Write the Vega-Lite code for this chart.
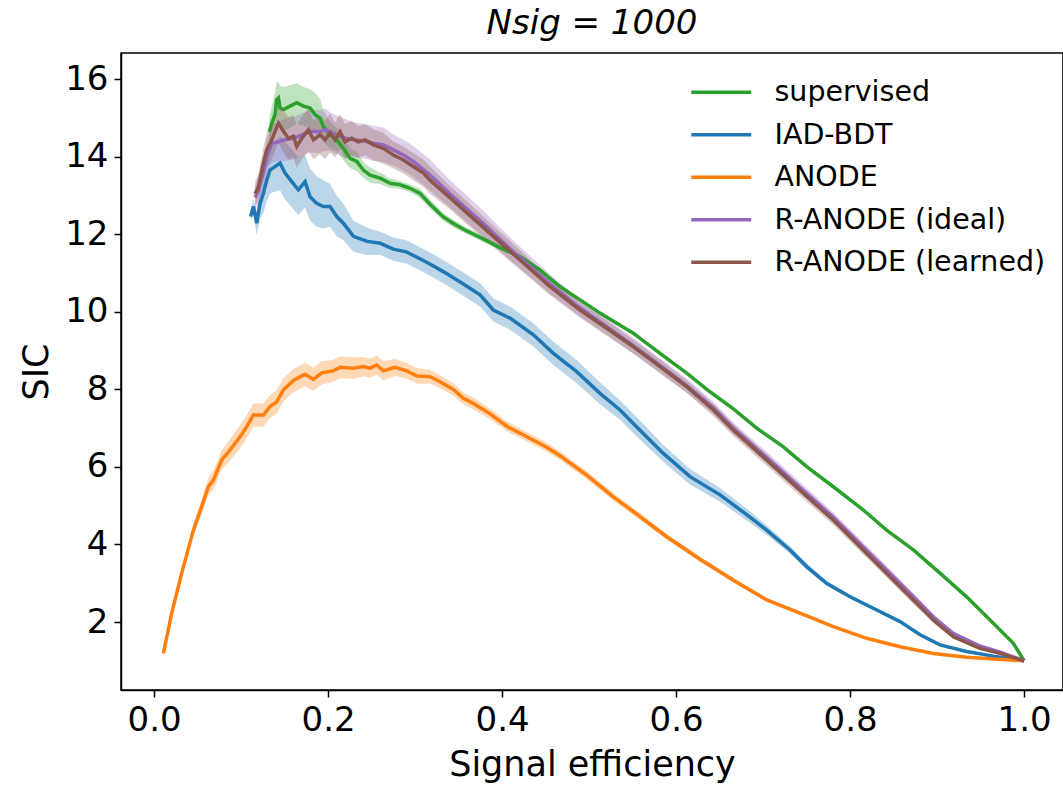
{
  "$schema": "https://vega.github.io/schema/vega-lite/v6.json",
  "autosize": {"type": "none"},
  "width": 942,
  "height": 637,
  "padding": {"left": 121, "top": 53, "right": 0, "bottom": 96},
  "background": "white",
  "title": {"text": "Nsig = 1000", "font": "DejaVu Sans", "fontSize": 34, "fontStyle": "italic", "fontWeight": "normal", "color": "black", "offset": 12},
  "config": {
    "view": {"stroke": "black", "strokeWidth": 1.5},
    "axis": {"grid": false, "domainColor": "black", "domainWidth": 1.5, "tickColor": "black", "tickWidth": 1.5, "tickSize": 7, "labelFont": "DejaVu Sans", "labelFontSize": 34, "labelColor": "black", "titleFont": "DejaVu Sans", "titleFontSize": 35, "titleFontWeight": "normal", "titleColor": "black", "labelPadding": 6},
    "legend": {"title": null, "labelFont": "DejaVu Sans", "labelFontSize": 28.5, "labelColor": "black", "labelLimit": 500, "symbolType": "M-3,0H3", "symbolSize": 400, "symbolStrokeWidth": 3.5, "labelOffset": 39, "rowPadding": 13.5, "padding": 0}
  },
  "resolve": {"legend": {"color": "independent"}},
  "data": {"values": [
    {"s":"supervised","x":0.1326,"y":14.65,"lo":14.30,"hi":15.00},
    {"s":"supervised","x":0.1353,"y":14.87,"lo":14.42,"hi":15.32},
    {"s":"supervised","x":0.139,"y":15.09,"lo":14.54,"hi":15.64},
    {"s":"supervised","x":0.141,"y":15.48,"lo":14.9,"hi":15.95},
    {"s":"supervised","x":0.143,"y":15.52,"lo":14.95,"hi":15.92},
    {"s":"supervised","x":0.1448,"y":15.26,"lo":14.7,"hi":15.85},
    {"s":"supervised","x":0.1487,"y":15.22,"lo":14.65,"hi":15.8},
    {"s":"supervised","x":0.1563,"y":15.31,"lo":14.75,"hi":15.85},
    {"s":"supervised","x":0.164,"y":15.40,"lo":14.85,"hi":15.9},
    {"s":"supervised","x":0.1716,"y":15.31,"lo":14.8,"hi":15.8},
    {"s":"supervised","x":0.1793,"y":15.26,"lo":14.75,"hi":15.75},
    {"s":"supervised","x":0.1851,"y":15.09,"lo":14.6,"hi":15.65},
    {"s":"supervised","x":0.1908,"y":15.0,"lo":14.55,"hi":15.5},
    {"s":"supervised","x":0.1946,"y":14.78,"lo":14.38,"hi":15.2},
    {"s":"supervised","x":0.2023,"y":14.57,"lo":14.22,"hi":14.92},
    {"s":"supervised","x":0.21,"y":14.44,"lo":14.14,"hi":14.74},
    {"s":"supervised","x":0.2176,"y":14.22,"lo":13.92,"hi":14.52},
    {"s":"supervised","x":0.2253,"y":13.96,"lo":13.71,"hi":14.21},
    {"s":"supervised","x":0.233,"y":13.88,"lo":13.63,"hi":14.13},
    {"s":"supervised","x":0.2406,"y":13.66,"lo":13.46,"hi":13.86},
    {"s":"supervised","x":0.2483,"y":13.53,"lo":13.33,"hi":13.73},
    {"s":"supervised","x":0.2598,"y":13.45,"lo":13.30,"hi":13.60},
    {"s":"supervised","x":0.2713,"y":13.32,"lo":13.20,"hi":13.44},
    {"s":"supervised","x":0.2828,"y":13.28,"lo":13.18,"hi":13.38},
    {"s":"supervised","x":0.2943,"y":13.19,"lo":13.09,"hi":13.29},
    {"s":"supervised","x":0.3057,"y":13.06,"lo":12.94,"hi":13.18},
    {"s":"supervised","x":0.3172,"y":12.78,"lo":12.66,"hi":12.90},
    {"s":"supervised","x":0.3325,"y":12.45,"lo":12.35,"hi":12.55},
    {"s":"supervised","x":0.344,"y":12.28,"lo":12.18,"hi":12.38},
    {"s":"supervised","x":0.3594,"y":12.09,"lo":12.01,"hi":12.17},
    {"s":"supervised","x":0.3785,"y":11.88,"lo":11.80,"hi":11.96},
    {"s":"supervised","x":0.3977,"y":11.66,"lo":11.60,"hi":11.72},
    {"s":"supervised","x":0.4207,"y":11.43,"lo":11.38,"hi":11.48},
    {"s":"supervised","x":0.4437,"y":11.08,"lo":11.03,"hi":11.13},
    {"s":"supervised","x":0.4667,"y":10.65,"lo":10.60,"hi":10.70},
    {"s":"supervised","x":0.4897,"y":10.31,"lo":10.27,"hi":10.35},
    {"s":"supervised","x":0.5126,"y":9.97,"lo":9.93,"hi":10.01},
    {"s":"supervised","x":0.5318,"y":9.71,"lo":9.67,"hi":9.75},
    {"s":"supervised","x":0.551,"y":9.45,"lo":9.42,"hi":9.48},
    {"s":"supervised","x":0.5663,"y":9.19,"lo":9.16,"hi":9.22},
    {"s":"supervised","x":0.5893,"y":8.80,"lo":8.77,"hi":8.83},
    {"s":"supervised","x":0.6123,"y":8.42,"lo":8.39,"hi":8.45},
    {"s":"supervised","x":0.639,"y":7.94,"lo":7.91,"hi":7.97},
    {"s":"supervised","x":0.6659,"y":7.50,"lo":7.47,"hi":7.53},
    {"s":"supervised","x":0.6927,"y":7.0,"lo":6.97,"hi":7.03},
    {"s":"supervised","x":0.7234,"y":6.52,"lo":6.50,"hi":6.54},
    {"s":"supervised","x":0.7502,"y":6.01,"lo":5.99,"hi":6.03},
    {"s":"supervised","x":0.7808,"y":5.49,"lo":5.47,"hi":5.51},
    {"s":"supervised","x":0.8153,"y":4.89,"lo":4.87,"hi":4.91},
    {"s":"supervised","x":0.842,"y":4.37,"lo":4.35,"hi":4.39},
    {"s":"supervised","x":0.8728,"y":3.86,"lo":3.84,"hi":3.88},
    {"s":"supervised","x":0.9034,"y":3.26,"lo":3.24,"hi":3.28},
    {"s":"supervised","x":0.934,"y":2.65,"lo":2.63,"hi":2.67},
    {"s":"supervised","x":0.9647,"y":1.97,"lo":1.96,"hi":1.98},
    {"s":"supervised","x":0.9877,"y":1.45,"lo":1.44,"hi":1.46},
    {"s":"supervised","x":1.0,"y":1.0,"lo":1.0,"hi":1.0},

    {"s":"IAD-BDT","x":0.111,"y":12.46,"lo":12.36,"hi":12.56},
    {"s":"IAD-BDT","x":0.1142,"y":12.72,"lo":12.52,"hi":12.92},
    {"s":"IAD-BDT","x":0.118,"y":12.29,"lo":11.99,"hi":12.59},
    {"s":"IAD-BDT","x":0.1218,"y":12.80,"lo":12.40,"hi":13.20},
    {"s":"IAD-BDT","x":0.1257,"y":13.06,"lo":12.56,"hi":13.56},
    {"s":"IAD-BDT","x":0.1295,"y":13.40,"lo":12.85,"hi":13.95},
    {"s":"IAD-BDT","x":0.1333,"y":13.66,"lo":13.06,"hi":14.26},
    {"s":"IAD-BDT","x":0.139,"y":13.75,"lo":13.10,"hi":14.40},
    {"s":"IAD-BDT","x":0.1448,"y":13.84,"lo":13.14,"hi":14.54},
    {"s":"IAD-BDT","x":0.1506,"y":13.58,"lo":12.90,"hi":14.40},
    {"s":"IAD-BDT","x":0.1582,"y":13.36,"lo":12.70,"hi":14.20},
    {"s":"IAD-BDT","x":0.1659,"y":13.15,"lo":12.50,"hi":14.00},
    {"s":"IAD-BDT","x":0.1736,"y":13.36,"lo":12.70,"hi":14.05},
    {"s":"IAD-BDT","x":0.1793,"y":12.97,"lo":12.35,"hi":13.70},
    {"s":"IAD-BDT","x":0.187,"y":12.80,"lo":12.20,"hi":13.50},
    {"s":"IAD-BDT","x":0.1946,"y":12.72,"lo":12.15,"hi":13.40},
    {"s":"IAD-BDT","x":0.2023,"y":12.72,"lo":12.20,"hi":13.30},
    {"s":"IAD-BDT","x":0.21,"y":12.46,"lo":11.95,"hi":13.00},
    {"s":"IAD-BDT","x":0.2176,"y":12.29,"lo":11.85,"hi":12.80},
    {"s":"IAD-BDT","x":0.2291,"y":11.95,"lo":11.55,"hi":12.35},
    {"s":"IAD-BDT","x":0.245,"y":11.82,"lo":11.47,"hi":12.17},
    {"s":"IAD-BDT","x":0.26,"y":11.77,"lo":11.47,"hi":12.07},
    {"s":"IAD-BDT","x":0.275,"y":11.62,"lo":11.32,"hi":11.92},
    {"s":"IAD-BDT","x":0.29,"y":11.55,"lo":11.25,"hi":11.85},
    {"s":"IAD-BDT","x":0.3134,"y":11.28,"lo":10.98,"hi":11.58},
    {"s":"IAD-BDT","x":0.3325,"y":11.04,"lo":10.74,"hi":11.34},
    {"s":"IAD-BDT","x":0.3555,"y":10.72,"lo":10.42,"hi":11.02},
    {"s":"IAD-BDT","x":0.3747,"y":10.44,"lo":10.14,"hi":10.74},
    {"s":"IAD-BDT","x":0.39,"y":10.05,"lo":9.75,"hi":10.35},
    {"s":"IAD-BDT","x":0.4092,"y":9.84,"lo":9.54,"hi":10.14},
    {"s":"IAD-BDT","x":0.436,"y":9.41,"lo":9.11,"hi":9.71},
    {"s":"IAD-BDT","x":0.459,"y":8.93,"lo":8.63,"hi":9.23},
    {"s":"IAD-BDT","x":0.4858,"y":8.46,"lo":8.16,"hi":8.76},
    {"s":"IAD-BDT","x":0.5126,"y":7.90,"lo":7.62,"hi":8.18},
    {"s":"IAD-BDT","x":0.5356,"y":7.47,"lo":7.22,"hi":7.72},
    {"s":"IAD-BDT","x":0.5586,"y":6.95,"lo":6.70,"hi":7.20},
    {"s":"IAD-BDT","x":0.5854,"y":6.35,"lo":6.13,"hi":6.57},
    {"s":"IAD-BDT","x":0.6161,"y":5.75,"lo":5.55,"hi":5.95},
    {"s":"IAD-BDT","x":0.6506,"y":5.28,"lo":5.10,"hi":5.46},
    {"s":"IAD-BDT","x":0.6812,"y":4.77,"lo":4.62,"hi":4.92},
    {"s":"IAD-BDT","x":0.7042,"y":4.37,"lo":4.25,"hi":4.49},
    {"s":"IAD-BDT","x":0.731,"y":3.86,"lo":3.76,"hi":3.96},
    {"s":"IAD-BDT","x":0.7502,"y":3.43,"lo":3.35,"hi":3.51},
    {"s":"IAD-BDT","x":0.773,"y":3.0,"lo":2.94,"hi":3.06},
    {"s":"IAD-BDT","x":0.8,"y":2.65,"lo":2.60,"hi":2.70},
    {"s":"IAD-BDT","x":0.8307,"y":2.31,"lo":2.27,"hi":2.35},
    {"s":"IAD-BDT","x":0.8575,"y":2.01,"lo":1.98,"hi":2.04},
    {"s":"IAD-BDT","x":0.8805,"y":1.67,"lo":1.64,"hi":1.70},
    {"s":"IAD-BDT","x":0.9034,"y":1.41,"lo":1.39,"hi":1.43},
    {"s":"IAD-BDT","x":0.934,"y":1.24,"lo":1.22,"hi":1.26},
    {"s":"IAD-BDT","x":0.9647,"y":1.12,"lo":1.11,"hi":1.13},
    {"s":"IAD-BDT","x":1.0,"y":1.0,"lo":1.0,"hi":1.0},

    {"s":"ANODE","x":0.0107,"y":1.19,"lo":1.17,"hi":1.21},
    {"s":"ANODE","x":0.0203,"y":2.23,"lo":2.18,"hi":2.28},
    {"s":"ANODE","x":0.0318,"y":3.26,"lo":3.16,"hi":3.36},
    {"s":"ANODE","x":0.0452,"y":4.37,"lo":4.22,"hi":4.52},
    {"s":"ANODE","x":0.0548,"y":4.98,"lo":4.78,"hi":5.18},
    {"s":"ANODE","x":0.0624,"y":5.49,"lo":5.27,"hi":5.71},
    {"s":"ANODE","x":0.0682,"y":5.66,"lo":5.41,"hi":5.91},
    {"s":"ANODE","x":0.0778,"y":6.18,"lo":5.93,"hi":6.43},
    {"s":"ANODE","x":0.0874,"y":6.44,"lo":6.16,"hi":6.72},
    {"s":"ANODE","x":0.0989,"y":6.78,"lo":6.48,"hi":7.08},
    {"s":"ANODE","x":0.1065,"y":7.04,"lo":6.74,"hi":7.34},
    {"s":"ANODE","x":0.1142,"y":7.34,"lo":7.04,"hi":7.64},
    {"s":"ANODE","x":0.1257,"y":7.34,"lo":7.04,"hi":7.64},
    {"s":"ANODE","x":0.1333,"y":7.56,"lo":7.26,"hi":7.86},
    {"s":"ANODE","x":0.141,"y":7.68,"lo":7.38,"hi":7.98},
    {"s":"ANODE","x":0.1487,"y":7.99,"lo":7.69,"hi":8.29},
    {"s":"ANODE","x":0.1602,"y":8.23,"lo":7.93,"hi":8.53},
    {"s":"ANODE","x":0.1736,"y":8.39,"lo":8.09,"hi":8.69},
    {"s":"ANODE","x":0.1832,"y":8.26,"lo":7.96,"hi":8.56},
    {"s":"ANODE","x":0.1927,"y":8.43,"lo":8.13,"hi":8.73},
    {"s":"ANODE","x":0.2061,"y":8.48,"lo":8.20,"hi":8.76},
    {"s":"ANODE","x":0.2138,"y":8.57,"lo":8.29,"hi":8.85},
    {"s":"ANODE","x":0.2291,"y":8.55,"lo":8.27,"hi":8.83},
    {"s":"ANODE","x":0.2406,"y":8.59,"lo":8.34,"hi":8.84},
    {"s":"ANODE","x":0.2483,"y":8.55,"lo":8.30,"hi":8.80},
    {"s":"ANODE","x":0.256,"y":8.63,"lo":8.38,"hi":8.88},
    {"s":"ANODE","x":0.2636,"y":8.48,"lo":8.23,"hi":8.73},
    {"s":"ANODE","x":0.277,"y":8.57,"lo":8.35,"hi":8.79},
    {"s":"ANODE","x":0.2904,"y":8.48,"lo":8.28,"hi":8.68},
    {"s":"ANODE","x":0.3019,"y":8.35,"lo":8.15,"hi":8.55},
    {"s":"ANODE","x":0.3172,"y":8.33,"lo":8.15,"hi":8.51},
    {"s":"ANODE","x":0.3287,"y":8.2,"lo":8.03,"hi":8.37},
    {"s":"ANODE","x":0.344,"y":8.0,"lo":7.84,"hi":8.16},
    {"s":"ANODE","x":0.3555,"y":7.77,"lo":7.62,"hi":7.92},
    {"s":"ANODE","x":0.367,"y":7.64,"lo":7.49,"hi":7.79},
    {"s":"ANODE","x":0.3862,"y":7.37,"lo":7.23,"hi":7.51},
    {"s":"ANODE","x":0.4054,"y":7.05,"lo":6.92,"hi":7.18},
    {"s":"ANODE","x":0.4284,"y":6.78,"lo":6.66,"hi":6.90},
    {"s":"ANODE","x":0.4514,"y":6.51,"lo":6.39,"hi":6.63},
    {"s":"ANODE","x":0.4667,"y":6.29,"lo":6.18,"hi":6.40},
    {"s":"ANODE","x":0.4973,"y":5.79,"lo":5.69,"hi":5.89},
    {"s":"ANODE","x":0.528,"y":5.23,"lo":5.13,"hi":5.33},
    {"s":"ANODE","x":0.5586,"y":4.72,"lo":4.63,"hi":4.81},
    {"s":"ANODE","x":0.5893,"y":4.20,"lo":4.12,"hi":4.28},
    {"s":"ANODE","x":0.6276,"y":3.62,"lo":3.55,"hi":3.69},
    {"s":"ANODE","x":0.6659,"y":3.08,"lo":3.02,"hi":3.14},
    {"s":"ANODE","x":0.7042,"y":2.57,"lo":2.52,"hi":2.62},
    {"s":"ANODE","x":0.7425,"y":2.23,"lo":2.19,"hi":2.27},
    {"s":"ANODE","x":0.7808,"y":1.88,"lo":1.85,"hi":1.91},
    {"s":"ANODE","x":0.8192,"y":1.58,"lo":1.55,"hi":1.61},
    {"s":"ANODE","x":0.8575,"y":1.36,"lo":1.34,"hi":1.38},
    {"s":"ANODE","x":0.8958,"y":1.19,"lo":1.17,"hi":1.21},
    {"s":"ANODE","x":0.934,"y":1.09,"lo":1.08,"hi":1.10},
    {"s":"ANODE","x":1.0,"y":1.0,"lo":1.0,"hi":1.0},

    {"s":"R-ANODE (ideal)","x":0.1161,"y":12.95,"lo":12.65,"hi":13.25},
    {"s":"R-ANODE (ideal)","x":0.12,"y":13.15,"lo":12.80,"hi":13.50},
    {"s":"R-ANODE (ideal)","x":0.1257,"y":13.6,"lo":13.20,"hi":14.00},
    {"s":"R-ANODE (ideal)","x":0.1295,"y":14.0,"lo":13.55,"hi":14.45},
    {"s":"R-ANODE (ideal)","x":0.1353,"y":14.35,"lo":13.85,"hi":14.85},
    {"s":"R-ANODE (ideal)","x":0.143,"y":14.39,"lo":13.89,"hi":14.89},
    {"s":"R-ANODE (ideal)","x":0.15,"y":14.44,"lo":13.89,"hi":14.99},
    {"s":"R-ANODE (ideal)","x":0.16,"y":14.48,"lo":13.93,"hi":15.03},
    {"s":"R-ANODE (ideal)","x":0.17,"y":14.57,"lo":14.02,"hi":15.12},
    {"s":"R-ANODE (ideal)","x":0.18,"y":14.66,"lo":14.11,"hi":15.21},
    {"s":"R-ANODE (ideal)","x":0.19,"y":14.65,"lo":14.10,"hi":15.20},
    {"s":"R-ANODE (ideal)","x":0.1966,"y":14.70,"lo":14.15,"hi":15.25},
    {"s":"R-ANODE (ideal)","x":0.2023,"y":14.65,"lo":14.15,"hi":15.15},
    {"s":"R-ANODE (ideal)","x":0.21,"y":14.57,"lo":14.07,"hi":15.07},
    {"s":"R-ANODE (ideal)","x":0.22,"y":14.48,"lo":13.98,"hi":14.98},
    {"s":"R-ANODE (ideal)","x":0.23,"y":14.44,"lo":13.99,"hi":14.89},
    {"s":"R-ANODE (ideal)","x":0.2425,"y":14.40,"lo":13.95,"hi":14.85},
    {"s":"R-ANODE (ideal)","x":0.2521,"y":14.35,"lo":13.90,"hi":14.80},
    {"s":"R-ANODE (ideal)","x":0.2636,"y":14.31,"lo":13.86,"hi":14.76},
    {"s":"R-ANODE (ideal)","x":0.2751,"y":14.18,"lo":13.78,"hi":14.58},
    {"s":"R-ANODE (ideal)","x":0.2866,"y":14.05,"lo":13.65,"hi":14.45},
    {"s":"R-ANODE (ideal)","x":0.298,"y":13.88,"lo":13.48,"hi":14.28},
    {"s":"R-ANODE (ideal)","x":0.3172,"y":13.53,"lo":13.13,"hi":13.93},
    {"s":"R-ANODE (ideal)","x":0.34,"y":13.05,"lo":12.70,"hi":13.40},
    {"s":"R-ANODE (ideal)","x":0.36,"y":12.65,"lo":12.30,"hi":13.00},
    {"s":"R-ANODE (ideal)","x":0.38,"y":12.25,"lo":11.92,"hi":12.58},
    {"s":"R-ANODE (ideal)","x":0.40,"y":11.82,"lo":11.52,"hi":12.12},
    {"s":"R-ANODE (ideal)","x":0.4207,"y":11.40,"lo":11.12,"hi":11.68},
    {"s":"R-ANODE (ideal)","x":0.4552,"y":10.72,"lo":10.47,"hi":10.97},
    {"s":"R-ANODE (ideal)","x":0.4897,"y":10.10,"lo":9.88,"hi":10.32},
    {"s":"R-ANODE (ideal)","x":0.5203,"y":9.62,"lo":9.42,"hi":9.82},
    {"s":"R-ANODE (ideal)","x":0.551,"y":9.13,"lo":8.93,"hi":9.33},
    {"s":"R-ANODE (ideal)","x":0.5816,"y":8.62,"lo":8.44,"hi":8.80},
    {"s":"R-ANODE (ideal)","x":0.6123,"y":8.10,"lo":7.92,"hi":8.28},
    {"s":"R-ANODE (ideal)","x":0.643,"y":7.52,"lo":7.36,"hi":7.68},
    {"s":"R-ANODE (ideal)","x":0.6659,"y":7.0,"lo":6.85,"hi":7.15},
    {"s":"R-ANODE (ideal)","x":0.7042,"y":6.24,"lo":6.09,"hi":6.39},
    {"s":"R-ANODE (ideal)","x":0.7425,"y":5.47,"lo":5.33,"hi":5.61},
    {"s":"R-ANODE (ideal)","x":0.7808,"y":4.70,"lo":4.57,"hi":4.83},
    {"s":"R-ANODE (ideal)","x":0.8115,"y":4.02,"lo":3.90,"hi":4.14},
    {"s":"R-ANODE (ideal)","x":0.842,"y":3.34,"lo":3.23,"hi":3.45},
    {"s":"R-ANODE (ideal)","x":0.8728,"y":2.65,"lo":2.55,"hi":2.75},
    {"s":"R-ANODE (ideal)","x":0.8958,"y":2.13,"lo":2.05,"hi":2.21},
    {"s":"R-ANODE (ideal)","x":0.9188,"y":1.70,"lo":1.64,"hi":1.76},
    {"s":"R-ANODE (ideal)","x":0.9494,"y":1.38,"lo":1.34,"hi":1.42},
    {"s":"R-ANODE (ideal)","x":0.9724,"y":1.22,"lo":1.19,"hi":1.25},
    {"s":"R-ANODE (ideal)","x":1.0,"y":1.0,"lo":1.0,"hi":1.0},

    {"s":"R-ANODE (learned)","x":0.1161,"y":13.05,"lo":12.75,"hi":13.35},
    {"s":"R-ANODE (learned)","x":0.12,"y":13.23,"lo":12.88,"hi":13.58},
    {"s":"R-ANODE (learned)","x":0.1257,"y":13.84,"lo":13.44,"hi":14.24},
    {"s":"R-ANODE (learned)","x":0.1295,"y":14.18,"lo":13.73,"hi":14.63},
    {"s":"R-ANODE (learned)","x":0.1353,"y":14.44,"lo":13.94,"hi":14.94},
    {"s":"R-ANODE (learned)","x":0.143,"y":14.87,"lo":14.37,"hi":15.37},
    {"s":"R-ANODE (learned)","x":0.1487,"y":14.66,"lo":14.11,"hi":15.21},
    {"s":"R-ANODE (learned)","x":0.1544,"y":14.48,"lo":13.93,"hi":15.03},
    {"s":"R-ANODE (learned)","x":0.1602,"y":14.53,"lo":13.98,"hi":15.08},
    {"s":"R-ANODE (learned)","x":0.164,"y":14.27,"lo":13.72,"hi":14.82},
    {"s":"R-ANODE (learned)","x":0.1698,"y":14.48,"lo":13.93,"hi":15.03},
    {"s":"R-ANODE (learned)","x":0.1774,"y":14.70,"lo":14.15,"hi":15.25},
    {"s":"R-ANODE (learned)","x":0.1832,"y":14.44,"lo":13.94,"hi":14.94},
    {"s":"R-ANODE (learned)","x":0.1908,"y":14.57,"lo":14.07,"hi":15.07},
    {"s":"R-ANODE (learned)","x":0.1966,"y":14.44,"lo":13.94,"hi":14.94},
    {"s":"R-ANODE (learned)","x":0.2023,"y":14.61,"lo":14.11,"hi":15.11},
    {"s":"R-ANODE (learned)","x":0.2081,"y":14.44,"lo":13.99,"hi":14.89},
    {"s":"R-ANODE (learned)","x":0.2138,"y":14.65,"lo":14.20,"hi":15.10},
    {"s":"R-ANODE (learned)","x":0.2195,"y":14.39,"lo":13.94,"hi":14.84},
    {"s":"R-ANODE (learned)","x":0.2272,"y":14.48,"lo":14.03,"hi":14.93},
    {"s":"R-ANODE (learned)","x":0.2349,"y":14.39,"lo":13.99,"hi":14.79},
    {"s":"R-ANODE (learned)","x":0.2425,"y":14.44,"lo":14.04,"hi":14.84},
    {"s":"R-ANODE (learned)","x":0.2521,"y":14.31,"lo":13.91,"hi":14.71},
    {"s":"R-ANODE (learned)","x":0.2636,"y":14.22,"lo":13.82,"hi":14.62},
    {"s":"R-ANODE (learned)","x":0.2751,"y":14.05,"lo":13.70,"hi":14.40},
    {"s":"R-ANODE (learned)","x":0.2866,"y":13.92,"lo":13.57,"hi":14.27},
    {"s":"R-ANODE (learned)","x":0.298,"y":13.75,"lo":13.40,"hi":14.10},
    {"s":"R-ANODE (learned)","x":0.3096,"y":13.58,"lo":13.23,"hi":13.93},
    {"s":"R-ANODE (learned)","x":0.3172,"y":13.40,"lo":13.05,"hi":13.75},
    {"s":"R-ANODE (learned)","x":0.34,"y":12.95,"lo":12.65,"hi":13.25},
    {"s":"R-ANODE (learned)","x":0.36,"y":12.55,"lo":12.25,"hi":12.85},
    {"s":"R-ANODE (learned)","x":0.38,"y":12.15,"lo":11.87,"hi":12.43},
    {"s":"R-ANODE (learned)","x":0.40,"y":11.75,"lo":11.48,"hi":12.02},
    {"s":"R-ANODE (learned)","x":0.4207,"y":11.34,"lo":11.09,"hi":11.59},
    {"s":"R-ANODE (learned)","x":0.4552,"y":10.65,"lo":10.43,"hi":10.87},
    {"s":"R-ANODE (learned)","x":0.4897,"y":10.05,"lo":9.85,"hi":10.25},
    {"s":"R-ANODE (learned)","x":0.5203,"y":9.58,"lo":9.38,"hi":9.78},
    {"s":"R-ANODE (learned)","x":0.551,"y":9.10,"lo":8.92,"hi":9.28},
    {"s":"R-ANODE (learned)","x":0.5816,"y":8.59,"lo":8.41,"hi":8.77},
    {"s":"R-ANODE (learned)","x":0.6123,"y":8.07,"lo":7.91,"hi":8.23},
    {"s":"R-ANODE (learned)","x":0.643,"y":7.47,"lo":7.31,"hi":7.63},
    {"s":"R-ANODE (learned)","x":0.6659,"y":6.95,"lo":6.80,"hi":7.10},
    {"s":"R-ANODE (learned)","x":0.7042,"y":6.18,"lo":6.03,"hi":6.33},
    {"s":"R-ANODE (learned)","x":0.7425,"y":5.40,"lo":5.26,"hi":5.54},
    {"s":"R-ANODE (learned)","x":0.7808,"y":4.63,"lo":4.50,"hi":4.76},
    {"s":"R-ANODE (learned)","x":0.8115,"y":3.94,"lo":3.82,"hi":4.06},
    {"s":"R-ANODE (learned)","x":0.842,"y":3.26,"lo":3.15,"hi":3.37},
    {"s":"R-ANODE (learned)","x":0.8728,"y":2.57,"lo":2.47,"hi":2.67},
    {"s":"R-ANODE (learned)","x":0.8958,"y":2.05,"lo":1.97,"hi":2.13},
    {"s":"R-ANODE (learned)","x":0.9188,"y":1.62,"lo":1.56,"hi":1.68},
    {"s":"R-ANODE (learned)","x":0.9494,"y":1.32,"lo":1.28,"hi":1.36},
    {"s":"R-ANODE (learned)","x":0.9724,"y":1.19,"lo":1.16,"hi":1.22},
    {"s":"R-ANODE (learned)","x":1.0,"y":1.0,"lo":1.0,"hi":1.0}
  ]},
  "layer": [
    {
      "mark": {"type": "area", "opacity": 0.3, "clip": true},
      "encoding": {
        "x": {"field": "x", "type": "quantitative", "scale": {"domain": [-0.038, 1.0448], "nice": false, "zero": false}, "axis": {"title": "Signal efficiency", "values": [0, 0.2, 0.4, 0.6, 0.8, 1.0], "format": ".1f", "titlePadding": 10}},
        "y": {"field": "lo", "type": "quantitative", "scale": {"domain": [0.246, 16.68], "nice": false, "zero": false}, "axis": {"title": "SIC", "values": [2, 4, 6, 8, 10, 12, 14, 16], "titlePadding": 10}},
        "y2": {"field": "hi"},
        "color": {"field": "s", "type": "nominal", "scale": {"domain": ["supervised", "IAD-BDT", "ANODE", "R-ANODE (ideal)", "R-ANODE (learned)"], "range": ["#2ca02c", "#1f77b4", "#ff7f0e", "#9467bd", "#8c564b"]}, "legend": null}
      }
    },
    {
      "mark": {"type": "line", "strokeWidth": 3.5, "clip": true},
      "encoding": {
        "x": {"field": "x", "type": "quantitative"},
        "y": {"field": "y", "type": "quantitative"},
        "color": {"field": "s", "type": "nominal", "legend": {"orient": "none", "legendX": 586, "legendY": 25}}
      }
    }
  ]
}
